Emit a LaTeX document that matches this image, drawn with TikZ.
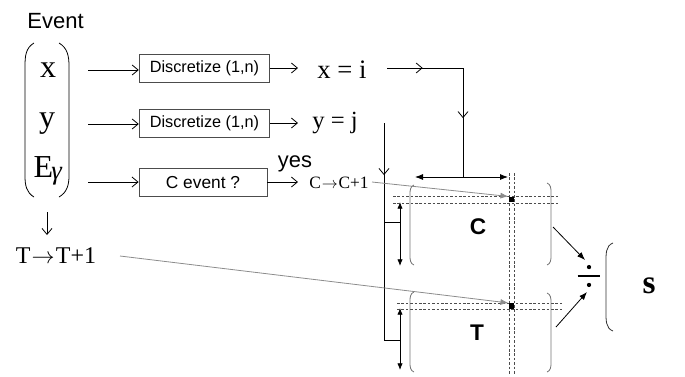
\documentclass[tikz,border=0pt]{standalone}
\usepackage{fontspec}
\setmainfont{Liberation Serif}
\setsansfont{Liberation Sans}
\usetikzlibrary{arrows.meta,decorations.markings}

\newcommand\fsz[1]{\fontsize{#1}{#1}\selectfont}
\newcommand\longto{\kern0.05em$\rightarrow$\kern0.05em}

\begin{document}
\begin{tikzpicture}[x=0.75pt,y=-0.75pt,
  line width=0.6pt,
  barb/.tip={Straight Barb[length=4.5pt,width=7.5pt,line width=0.6pt]},
  oarrow/.style={-barb},
  farrow/.style={-{Latex[length=6pt,width=4.5pt]}},
  darrow/.style={{Latex[length=5pt,width=4pt]}-{Latex[length=5pt,width=4pt]}},
  garrow/.style={draw=black!45, -{Latex[length=6pt,width=4.5pt]}},
  midbarb/.style={postaction={decorate},
    decoration={markings, mark=at position #1 with {\arrow{barb}}}},
  hbox/.style={draw=black!70, minimum height=21pt, inner sep=0pt,
    font=\sffamily\fsz{12.2}},
  dashpair/.style={draw=black!70, line width=0.5pt, dash pattern=on 2pt off 1.3pt},
  bracket/.style={draw=black!55, line width=0.6pt},
  serifbig/.style={font=\fsz{24}, anchor=base, inner sep=0pt},
  lbl/.style={anchor=base, inner sep=0pt}
]
\useasboundingbox (0,0) rectangle (685,376);

% ---- event vector ----
\node[font=\sffamily\fsz{16.5}, anchor=west, inner sep=0pt] (event) at (27,21) {Event};
\node[serifbig] (vx) at (48,77) {x};
\node[serifbig] (vy) at (47,127) {y};
\node[serifbig] (ve) at (48,177) {E\kern-0.06em\raisebox{-0.2ex}{\fsz{20}\textit{γ}}};
\draw (34,43) to[out=210,in=90] (25,66) -- (25,176) to[out=-90,in=150] (34,197);
\draw (59,43) to[out=-30,in=90] (69,66) -- (69,176) to[out=-90,in=30] (59,197);

% ---- processing boxes ----
\node[hbox, minimum width=98pt] (b1) at (204.5,68) {Discretize (1,n)};
\node[hbox, minimum width=98pt] (b2) at (204.5,123) {Discretize (1,n)};
\node[hbox, minimum width=96pt, font=\sffamily\fsz{13}] (b3) at (203,182.5) {C event ?};

\coordinate (p1) at (88,70);
\coordinate (p2) at (88,124);
\coordinate (p3) at (88,182);
\draw[oarrow] (p1) -- (p1 -| b1.west);
\draw[oarrow] (p2) -- (p2 -| b2.west);
\draw[oarrow] (p3) -- (p3 -| b3.west);

% ---- results ----
\node[lbl, font=\fsz{20}] (xi) at (342,78) {x = i};
\node[lbl, font=\fsz{18.5}] (yj) at (335,128) {y = j};
\node[lbl, font=\fsz{13}] (cc) at (339,188) {C\longto C+1};
\node[lbl, font=\sffamily\fsz{16.4}] (yes) at (295,167) {yes};
\node[lbl, font=\fsz{18}] (tt) at (56,263) {T\longto T+1};

\coordinate (r1) at (298,68);
\coordinate (r2) at (298,123);
\coordinate (r3) at (298,182);
\draw[oarrow] (b1.east |- r1) -- (r1);
\draw[oarrow] (b2.east |- r2) -- (r2);
\draw[oarrow] (b3.east |- r3) -- (r3);

\coordinate (dtop) at (47,212);
\coordinate (dbot) at (47,235);
\draw[oarrow] (dtop) -- (dbot);

% ---- index routing ----
\coordinate (xo) at (387,68);
\coordinate (xc) at (463,68);
\coordinate (xj) at (463,177);
\coordinate (hl) at (415,177);
\coordinate (hr) at (508,177);
\draw[midbarb=0.47] (xo) -- (xc);
\draw[midbarb=0.46] (xc) -- (xj);
\draw[farrow] (xj) -- (hl);
\draw[farrow] (xj) -- (hr);

\coordinate (yo) at (384,123);
\coordinate (yb) at (384,340);
\coordinate (yc) at (384,222);
\draw[midbarb=0.24] (yo) -- (yb);

\coordinate (ct) at (400,202);
\coordinate (cb) at (400,266);
\coordinate (tt1) at (400,308);
\coordinate (tb) at (400,370);
\draw (yc) -- (yc -| ct);
\draw (yb) -- (yb -| tt1);
\draw[darrow] (ct) -- (cb);
\draw[darrow] (tt1) -- (tb);

% ---- guide lines ----
\draw[dashpair] (393,196) -- (560,196);
\draw[dashpair] (393,203) -- (560,203);
\draw[dashpair] (397,303) -- (563,303);
\draw[dashpair] (397,309) -- (563,309);
\draw[dashpair] (509,173) -- (509,375);
\draw[dashpair] (514,173) -- (514,375);

\node[fill, minimum size=4pt, inner sep=0pt] (sc) at (511.5,199.5) {};
\node[fill, minimum size=4pt, inner sep=0pt] (st) at (511.5,306) {};

\coordinate (g1) at (372,182);
\coordinate (g2) at (120,256);
\draw[garrow] (g1) -- (sc.north west);
\draw[garrow] (g2) -- (st.north west);

% ---- matrices ----
\draw[bracket] (414,185) to[out=200,in=90] (410,194) -- (410,256) to[out=-90,in=160] (414,265);
\draw[bracket] (547,183) to[out=-20,in=90] (551,192) -- (551,256) to[out=-90,in=20] (547,265);
\draw[bracket] (414,292) to[out=200,in=90] (410,301) -- (410,363) to[out=-90,in=160] (414,372);
\draw[bracket] (547,293) to[out=-20,in=90] (551,302) -- (551,363) to[out=-90,in=20] (547,372);
\node[font=\sffamily\bfseries\fsz{17}] (mc) at (478,227) {C};
\node[font=\sffamily\bfseries\fsz{17}] (mt) at (477,333) {T};

% ---- division ----
\node[minimum width=16.5pt, minimum height=24pt, inner sep=0pt] (div) at (589,276) {};
\draw[line width=1.2pt] (div.west) -- (div.east);
\fill ([yshift=-6.7pt]div.center) circle[radius=1.6pt];
\fill ([yshift=6.7pt]div.center) circle[radius=1.6pt];

\coordinate (ca) at (553,227);
\coordinate (ta) at (556,327);
\coordinate (dc) at (585,260);
\coordinate (dt) at (587,292);
\draw[farrow] (ca) -- (dc);
\draw[farrow] (ta) -- (dt);

\draw[draw=black!80] (613,243) to[out=200,in=90] (606,262) -- (606,312) to[out=-90,in=160] (613,331);
\node[lbl, font=\bfseries\fsz{25}] (sres) at (649,293) {s};
\end{tikzpicture}
\end{document}
